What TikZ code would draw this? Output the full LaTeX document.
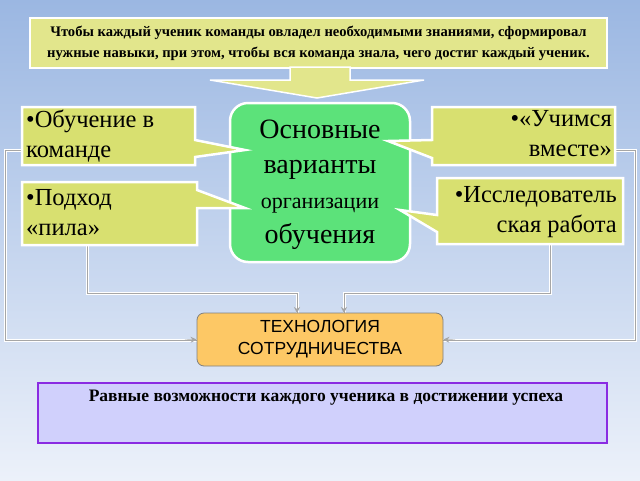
\documentclass[tikz,border=0pt]{standalone}
\usepackage{fontspec}
\usetikzlibrary{arrows.meta}
\setmainfont{Liberation Serif}
\newfontfamily\sansf{Liberation Sans}
\begin{document}
\begin{tikzpicture}[x=1pt,y=-1pt,
  call/.style={fill=callc,draw=white,line width=2.5pt,line join=miter},
  ctext/.style={align=#1,font=\fontsize{24.5}{30}\selectfont,inner sep=0pt},
  conn/.style={draw=white,line width=3pt},
  connin/.style={draw=gray!70,line width=0.8pt},
  tip/.style={-{Stealth[length=6pt,width=6pt]},draw=gray!70,line width=0.8pt}]
\definecolor{callc}{HTML}{D8E070}
\definecolor{topc}{HTML}{E2E68C}
\definecolor{greenc}{HTML}{5CE27A}
\definecolor{orc}{HTML}{FDC865}
\definecolor{lavc}{HTML}{D0D0FC}
\definecolor{purc}{HTML}{8A2BE2}
\useasboundingbox (0,0) rectangle (640,480);
\shade[top color={rgb,255:red,155;green,183;blue,226},bottom color={rgb,255:red,236;green,241;blue,250}] (0,0) rectangle (640,480);
\coordinate (a1) at (22,150); \coordinate (a2) at (615,150);
\coordinate (a3) at (87,245); \coordinate (a4) at (550,244);
\coordinate (e1) at (197,340); \coordinate (e2) at (443,340);
\coordinate (e3) at (297,313); \coordinate (e4) at (344,313);
\draw[conn] (a1)--(5,150)--(5,340)--(e1);
\draw[conn] (a2)--(635,150)--(635,340)--(e2);
\draw[conn] (a3)--(87,293)--(297,293)--(e3);
\draw[conn] (a4)--(550,293)--(344,293)--(e4);
\draw[connin] (a1)--(5,150)--(5,340)--(e1);
\draw[connin] (a2)--(635,150)--(635,340)--(e2);
\draw[connin] (a3)--(87,293)--(297,293)--(e3);
\draw[connin] (a4)--(550,293)--(344,293)--(e4);
% top box
\node[draw=white,line width=2pt,fill=topc,minimum width=577pt,minimum height=50pt,align=center,font=\bfseries\fontsize{14.6}{21}\selectfont] (top) at (318.5,43) {Чтобы каждый ученик команды овладел необходимыми знаниями, сформировал\\нужные навыки, при этом, чтобы вся команда знала, чего достиг каждый ученик.};
% big arrow
\fill[topc,draw=white,line width=1.5pt] (290,67)--(350,67)--(350,80)--(424,80)--(317,98)--(210,80)--(290,80)--cycle;
% green box
\node[draw=white,line width=2.5pt,fill=greenc,rounded corners=18pt,minimum width=180pt,minimum height=159pt] (g) at (320,182.5) {};
\node[align=center,font=\fontsize{28}{35}\selectfont] (gt) at (320,185) {Основные\\варианты\\{\fontsize{22}{35}\selectfont организации}\\обучения};
% callouts
\draw[call] (22,107)--(195,107)--(195,140)--(245,150)--(195,157)--(195,165)--(22,165)--cycle;
\draw[call] (432,107)--(615,107)--(615,165)--(432,165)--(432,158)--(388,141)--(432,140)--cycle;
\draw[call] (22,182)--(197,182)--(197,190)--(245,208)--(197,208)--(197,245)--(22,245)--cycle;
\draw[call] (437,178)--(623,178)--(623,244)--(437,244)--(437,232)--(400,210)--(437,215)--cycle;
\node[anchor=north west,ctext=left] (c1) at (26,110) {•Обучение в\\команде};
\node[anchor=north east,ctext=right] (c2) at (612,110) {•«Учимся\\вместе»};
\node[anchor=north west,ctext=left] (c3) at (26,189) {•Подход\\«пила»};
\node[anchor=north east,ctext=right] (c4) at (617,186) {•Исследователь\\ская работа};
% tech
\node[draw=gray,line width=0.8pt,fill=orc,rounded corners=7pt,minimum width=246pt,minimum height=53pt,align=center,font=\sansf\fontsize{17.5}{22}\selectfont] (t) at (320,339.5) {ТЕХНОЛОГИЯ\\СОТРУДНИЧЕСТВА};
% arrowheads
\draw[tip] (297,300)--(297,313);
\draw[tip] (344,300)--(344,313);
\draw[tip] (185,340)--(t.west);
\draw[tip] (455,340)--(t.east);
% bottom
\node[draw=purc,line width=2.5pt,fill=lavc,minimum width=569pt,minimum height=60pt] (b) at (322.5,413) {};
\node[font=\bfseries\fontsize{17.5}{20}\selectfont] (bt) at (326,398) {Равные возможности каждого ученика в достижении успеха};
\end{tikzpicture}
\end{document}
